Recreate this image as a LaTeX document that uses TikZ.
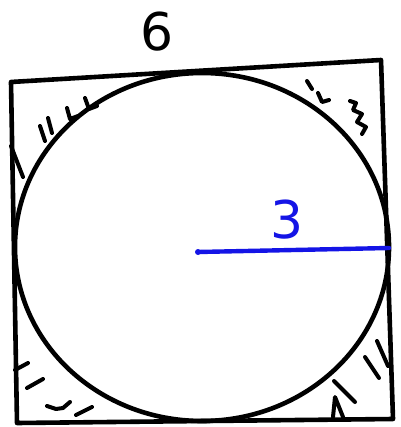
\documentclass[tikz,border=0pt]{standalone}
\usepackage{fontspec}
\setmainfont{DejaVu Sans}
\usetikzlibrary{shapes.geometric}
\definecolor{penblue}{RGB}{20,20,230}
\tikzset{
  pen/.style={line width=4.6pt,line cap=round,line join=round,black},
  hatch/.style={line width=4pt,line cap=round,line join=round,black},
  bluepen/.style={line width=4.4pt,line cap=round,penblue},
  lbl/.style={inner sep=0pt,font=\fontsize{52}{52}\selectfont}
}
\begin{document}
\begin{tikzpicture}[x=1pt,y=-1pt]
\useasboundingbox (0,0) rectangle (400,427);
\fill[white] (0,0) rectangle (400,427);
% square corners
\coordinate (tl) at (11,82);
\coordinate (tr) at (381,60);
\coordinate (br) at (393,419);
\coordinate (bl) at (17,423);
\draw[pen] (tl) -- (tr) -- (br) -- (bl) -- cycle;
% circle
\node[pen,draw,ellipse,minimum width=374pt,minimum height=348pt,inner sep=0pt] (circ) at (202,247) {};
% radius
\coordinate (ctr) at (198,252);
\coordinate (rim) at (389,248);
\draw[bluepen] (ctr) -- (rim);
\fill[penblue] (ctr) circle (3pt);
% labels
\node[lbl,text=black] (six) at (157,32) {6};
\node[lbl,text=penblue] (three) at (287,220) {3};
% hatch marks top-left
\draw[hatch] (40,126) -- (45,141);
\draw[hatch] (48,118) -- (52,133);
\draw[hatch] (67,108) -- (70,119) -- (78,116);
\draw[hatch] (85,98) -- (89,109) -- (97,106);
\draw[hatch] (11,146) -- (23,177);
% top-right
\draw[hatch] (307,81) -- (312,89);
\draw[hatch] (318,93) -- (322,102) -- (329,100);
\draw[hatch] (350,101) -- (356,103) -- (353,110) -- (362,114) -- (357,122) -- (366,127) -- (362,134);
% bottom-left
\draw[hatch] (15,370) -- (28,363);
\draw[hatch] (27,388) -- (43,379);
\draw[hatch] (47,406) -- (56,409) -- (63,408) -- (70,402);
\draw[hatch] (76,415) -- (92,407);
% bottom-right
\draw[hatch] (365,357) -- (379,378);
\draw[hatch] (377,341) -- (388,366);
\draw[hatch] (334,381) -- (355,402);
\draw[hatch] (333,417) -- (335,397) -- (343,417);
\end{tikzpicture}
\end{document}
